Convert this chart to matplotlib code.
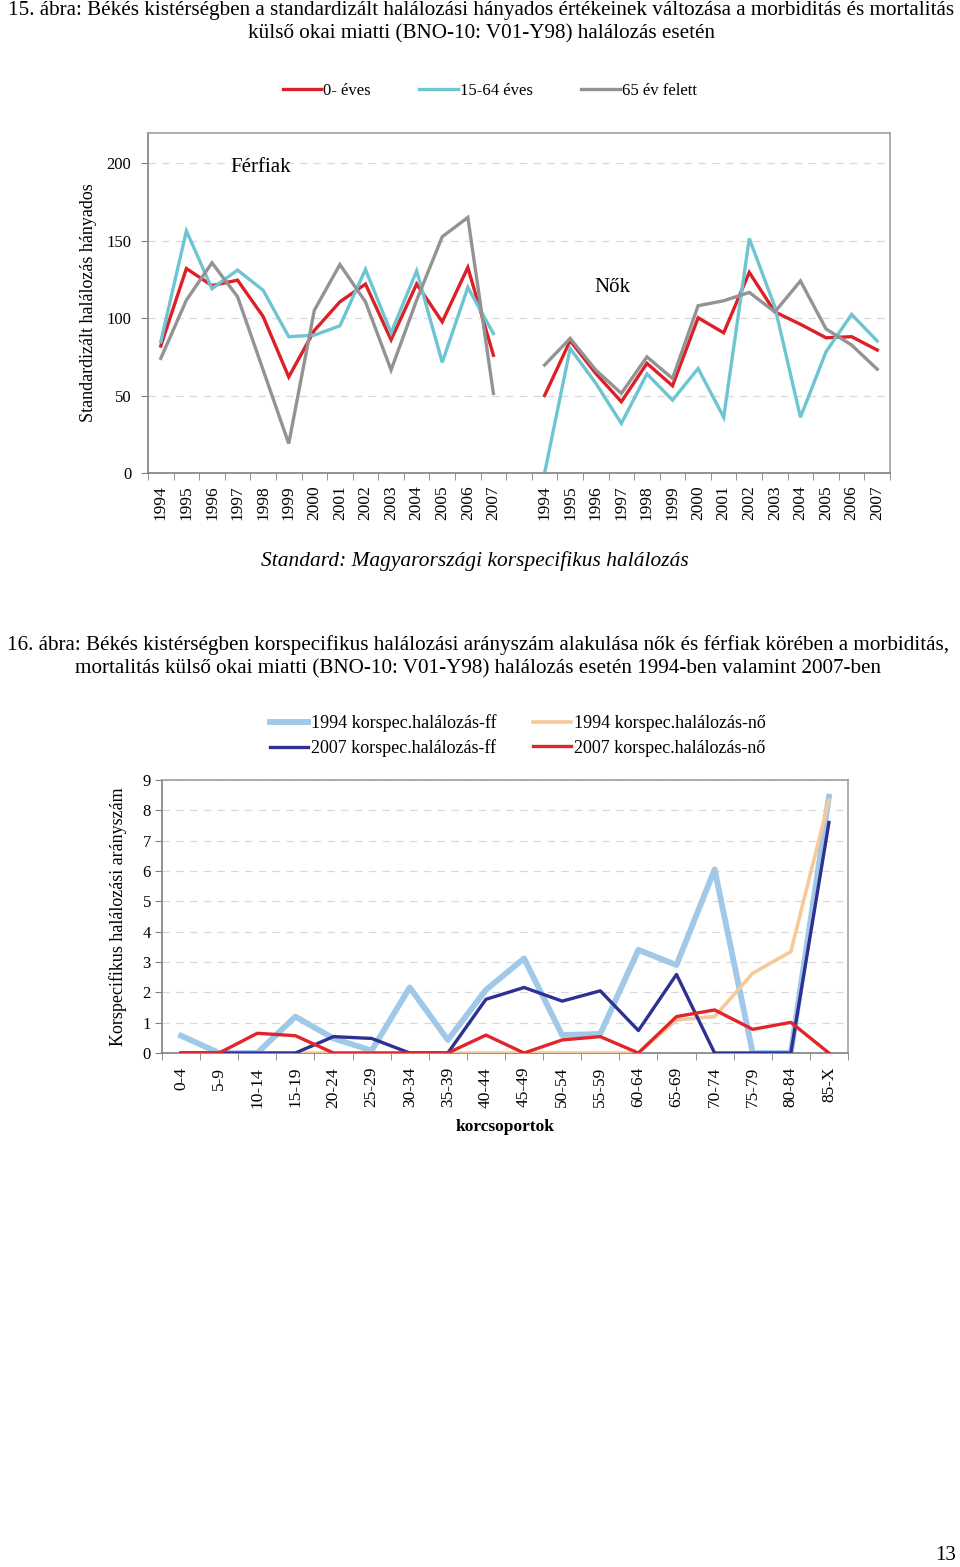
import matplotlib
matplotlib.use("Agg")
import matplotlib.pyplot as plt
import numpy as np

plt.rcParams['font.family'] = ['Liberation Serif', 'DejaVu Serif']

W, H = 960, 1567

# ---------------- Chart 15 data ----------------
years = ['1994', '1995', '1996', '1997', '1998', '1999', '2000', '2001',
         '2002', '2003', '2004', '2005', '2006', '2007']
men_0 = [82, 132, 121, 124.5, 101, 62, 92, 110.5, 122, 86, 122, 97.6, 132.7, 76]
men_15_64 = [84.7, 156.3, 119, 131, 118, 88, 89, 95, 131.4, 90.5, 130.5, 71.4, 119.8, 90]
men_65 = [74, 111.6, 135.7, 113.8, 66.5, 19, 105, 134.6, 110.5, 66.5, 111.6, 152.5, 165, 51.4]
women_0 = [50, 85.4, 64.3, 46, 70.8, 56.3, 100.2, 90.5, 129.5, 104, 96, 87.3, 88, 79.4]
women_15_64 = [0, 80.4, 58, 32, 64, 47, 67.5, 36, 151.4, 107.3, 36, 78.3, 102.4, 85.2]
women_65 = [69.7, 86.9, 66.5, 51.4, 75, 61, 108, 111.2, 116.6, 104, 124, 93, 82.6, 67]
series15_names = ['0- éves', '15-64 éves', '65 év felett']
series15_colors = ['#DD2027', '#6DC5D2', '#939393']

# ---------------- Chart 16 data ----------------
age_groups = ['0-4', '5-9', '10-14', '15-19', '20-24', '25-29', '30-34', '35-39',
              '40-44', '45-49', '50-54', '55-59', '60-64', '65-69', '70-74',
              '75-79', '80-84', '85-X']
ff_1994 = [0.57, 0, 0, 1.2, 0.48, 0.08, 2.16, 0.43, 2.08, 3.12, 0.59, 0.63,
           3.4, 2.9, 6.05, 0, 0, 8.45]
no_1994 = [0, 0, 0, 0, 0, 0, 0, 0, 0, 0, 0, 0, 0, 1.09, 1.2, 2.63, 3.34, 8.34]
ff_2007 = [0, 0, 0, 0, 0.54, 0.48, 0, 0, 1.77, 2.16, 1.71, 2.05, 0.74, 2.59,
           0, 0, 0, 7.6]
no_2007 = [0, 0, 0.65, 0.57, 0, 0, 0, 0, 0.59, 0, 0.43, 0.54, 0, 1.2, 1.42,
           0.78, 1.01, 0]
series16_names = ['1994 korspec.halálozás-ff', '1994 korspec.halálozás-nő',
                  '2007 korspec.halálozás-ff', '2007 korspec.halálozás-nő']
series16_colors = ['#A0C8E8', '#F7C999', '#2E3192', '#E0262B']

fig = plt.figure(figsize=(W / 100, H / 100), dpi=100)


def fx(px):
    return px / W


def fy(py):
    return 1 - py / H


def style_axes(ax):
    for s in ['top', 'right']:
        ax.spines[s].set_color('#A0A0A0')
    ax.spines['left'].set_color('#808080')
    ax.spines['bottom'].set_color('#808080')
    for s in ax.spines.values():
        s.set_linewidth(1.2)


# ---------------- Chart 15 ----------------
fig.text(fx(481), fy(11), '15. ábra: Békés kistérségben a standardizált halálozási hányados értékeinek változása a morbiditás és mortalitás',
         ha='center', va='center', fontsize=15.2)
fig.text(fx(481), fy(34), 'külső okai miatti (BNO-10: V01-Y98) halálozás esetén',
         ha='center', va='center', fontsize=15.2)

ax1 = fig.add_axes([fx(148), fy(473), fx(742), 340 / H])
labels15 = years + [''] + years
n15 = len(labels15)
xs = np.arange(n15)
data15 = [(men_0, women_0), (men_15_64, women_15_64), (men_65, women_65)]
handles = []
for (m, w), c, nm in zip(data15, series15_colors, series15_names):
    y = list(m) + [np.nan] + list(w)
    h, = ax1.plot(xs, y, color=c, lw=2.4, label=nm, solid_joinstyle='miter')
    handles.append(h)
ax1.set_xlim(-0.5, n15 - 0.5)
ax1.set_ylim(0, 219.5)
ax1.set_yticks([0, 50, 100, 150, 200])
ax1.set_yticklabels(['0', '50', '100', '150', '200'], fontsize=12)
ax1.yaxis.grid(True, color='#D9D9D9', ls=(0, (6, 5)), lw=0.9)
ax1.set_axisbelow(True)
ax1.set_xticks(xs)
ax1.set_xticklabels(labels15, rotation=90, fontsize=12.5)
ax1.tick_params(axis='x', length=0, pad=9)
ax1.set_xticks(np.arange(-0.5, n15, 1), minor=True)
ax1.tick_params(axis='x', which='minor', length=5, color='#808080')
ax1.tick_params(axis='y', length=5, color='#808080', pad=7)
style_axes(ax1)
ax1.set_ylabel('Standardizált halálozás hányados', fontsize=13, labelpad=7)
ax1.text(2.7, 197, 'Férfiak', fontsize=15, ha='left', va='center')
ax1.text(16.95, 120, 'Nők', fontsize=15, ha='left', va='center')

leg1 = fig.legend(handles=handles, loc='center', bbox_to_anchor=(fx(490), fy(91)),
                  ncol=3, frameon=False, fontsize=12, handlelength=2.3,
                  handletextpad=0.15, columnspacing=2.9)

fig.text(fx(475), fy(561), 'Standard: Magyarországi korspecifikus halálozás',
         ha='center', va='center', fontsize=15.4, style='italic')

# ---------------- Chart 16 ----------------
fig.text(fx(478), fy(645), '16. ábra: Békés kistérségben korspecifikus halálozási arányszám alakulása nők és férfiak körében a morbiditás,',
         ha='center', va='center', fontsize=15.2)
fig.text(fx(478), fy(669), 'mortalitás külső okai miatti (BNO-10: V01-Y98) halálozás esetén 1994-ben valamint 2007-ben',
         ha='center', va='center', fontsize=15.2)

ax2 = fig.add_axes([fx(162), fy(1053), fx(686), 273 / H])
x2 = np.arange(len(age_groups))
data16 = [ff_1994, no_1994, ff_2007, no_2007]
widths = [4.2, 2.6, 2.4, 2.4]
zord = [2, 3, 4, 5]
h16 = []
for d, c, nm, lw, z in zip(data16, series16_colors, series16_names, widths, zord):
    h, = ax2.plot(x2, d, color=c, lw=lw, label=nm, zorder=z)
    h16.append(h)
ax2.set_xlim(-0.5, len(age_groups) - 0.5)
ax2.set_ylim(0, 9)
ax2.set_yticks(range(10))
ax2.set_yticklabels([str(i) for i in range(10)], fontsize=12)
ax2.yaxis.grid(True, color='#D9D9D9', ls=(0, (6, 5)), lw=0.9)
ax2.set_axisbelow(True)
ax2.set_xticks(x2)
ax2.set_xticklabels(age_groups, rotation=90, fontsize=12.5)
ax2.tick_params(axis='x', length=0, pad=10)
ax2.set_xticks(np.arange(-0.5, len(age_groups), 1), minor=True)
ax2.tick_params(axis='x', which='minor', length=5, color='#808080')
ax2.tick_params(axis='y', length=5, color='#808080', pad=3)
style_axes(ax2)
ax2.set_ylabel('Korspecifikus halálozási arányszám', fontsize=13, labelpad=11)
ax2.set_xlabel('korcsoportok', fontsize=12.5, fontweight='bold', labelpad=8)

# row1 = ff1994, no1994 ; row2 = ff2007, no2007 (column-major fill)
leg2 = fig.legend(handles=[h16[0], h16[2], h16[1], h16[3]], loc='center',
                  bbox_to_anchor=(fx(518), fy(736)), ncol=2, frameon=False,
                  fontsize=13, handlelength=2.1, handletextpad=0.2,
                  columnspacing=2.0, labelspacing=0.4)

fig.text(fx(946), fy(1555), '13', ha='center', va='center', fontsize=15)

fig.savefig('out.png', dpi=100)
